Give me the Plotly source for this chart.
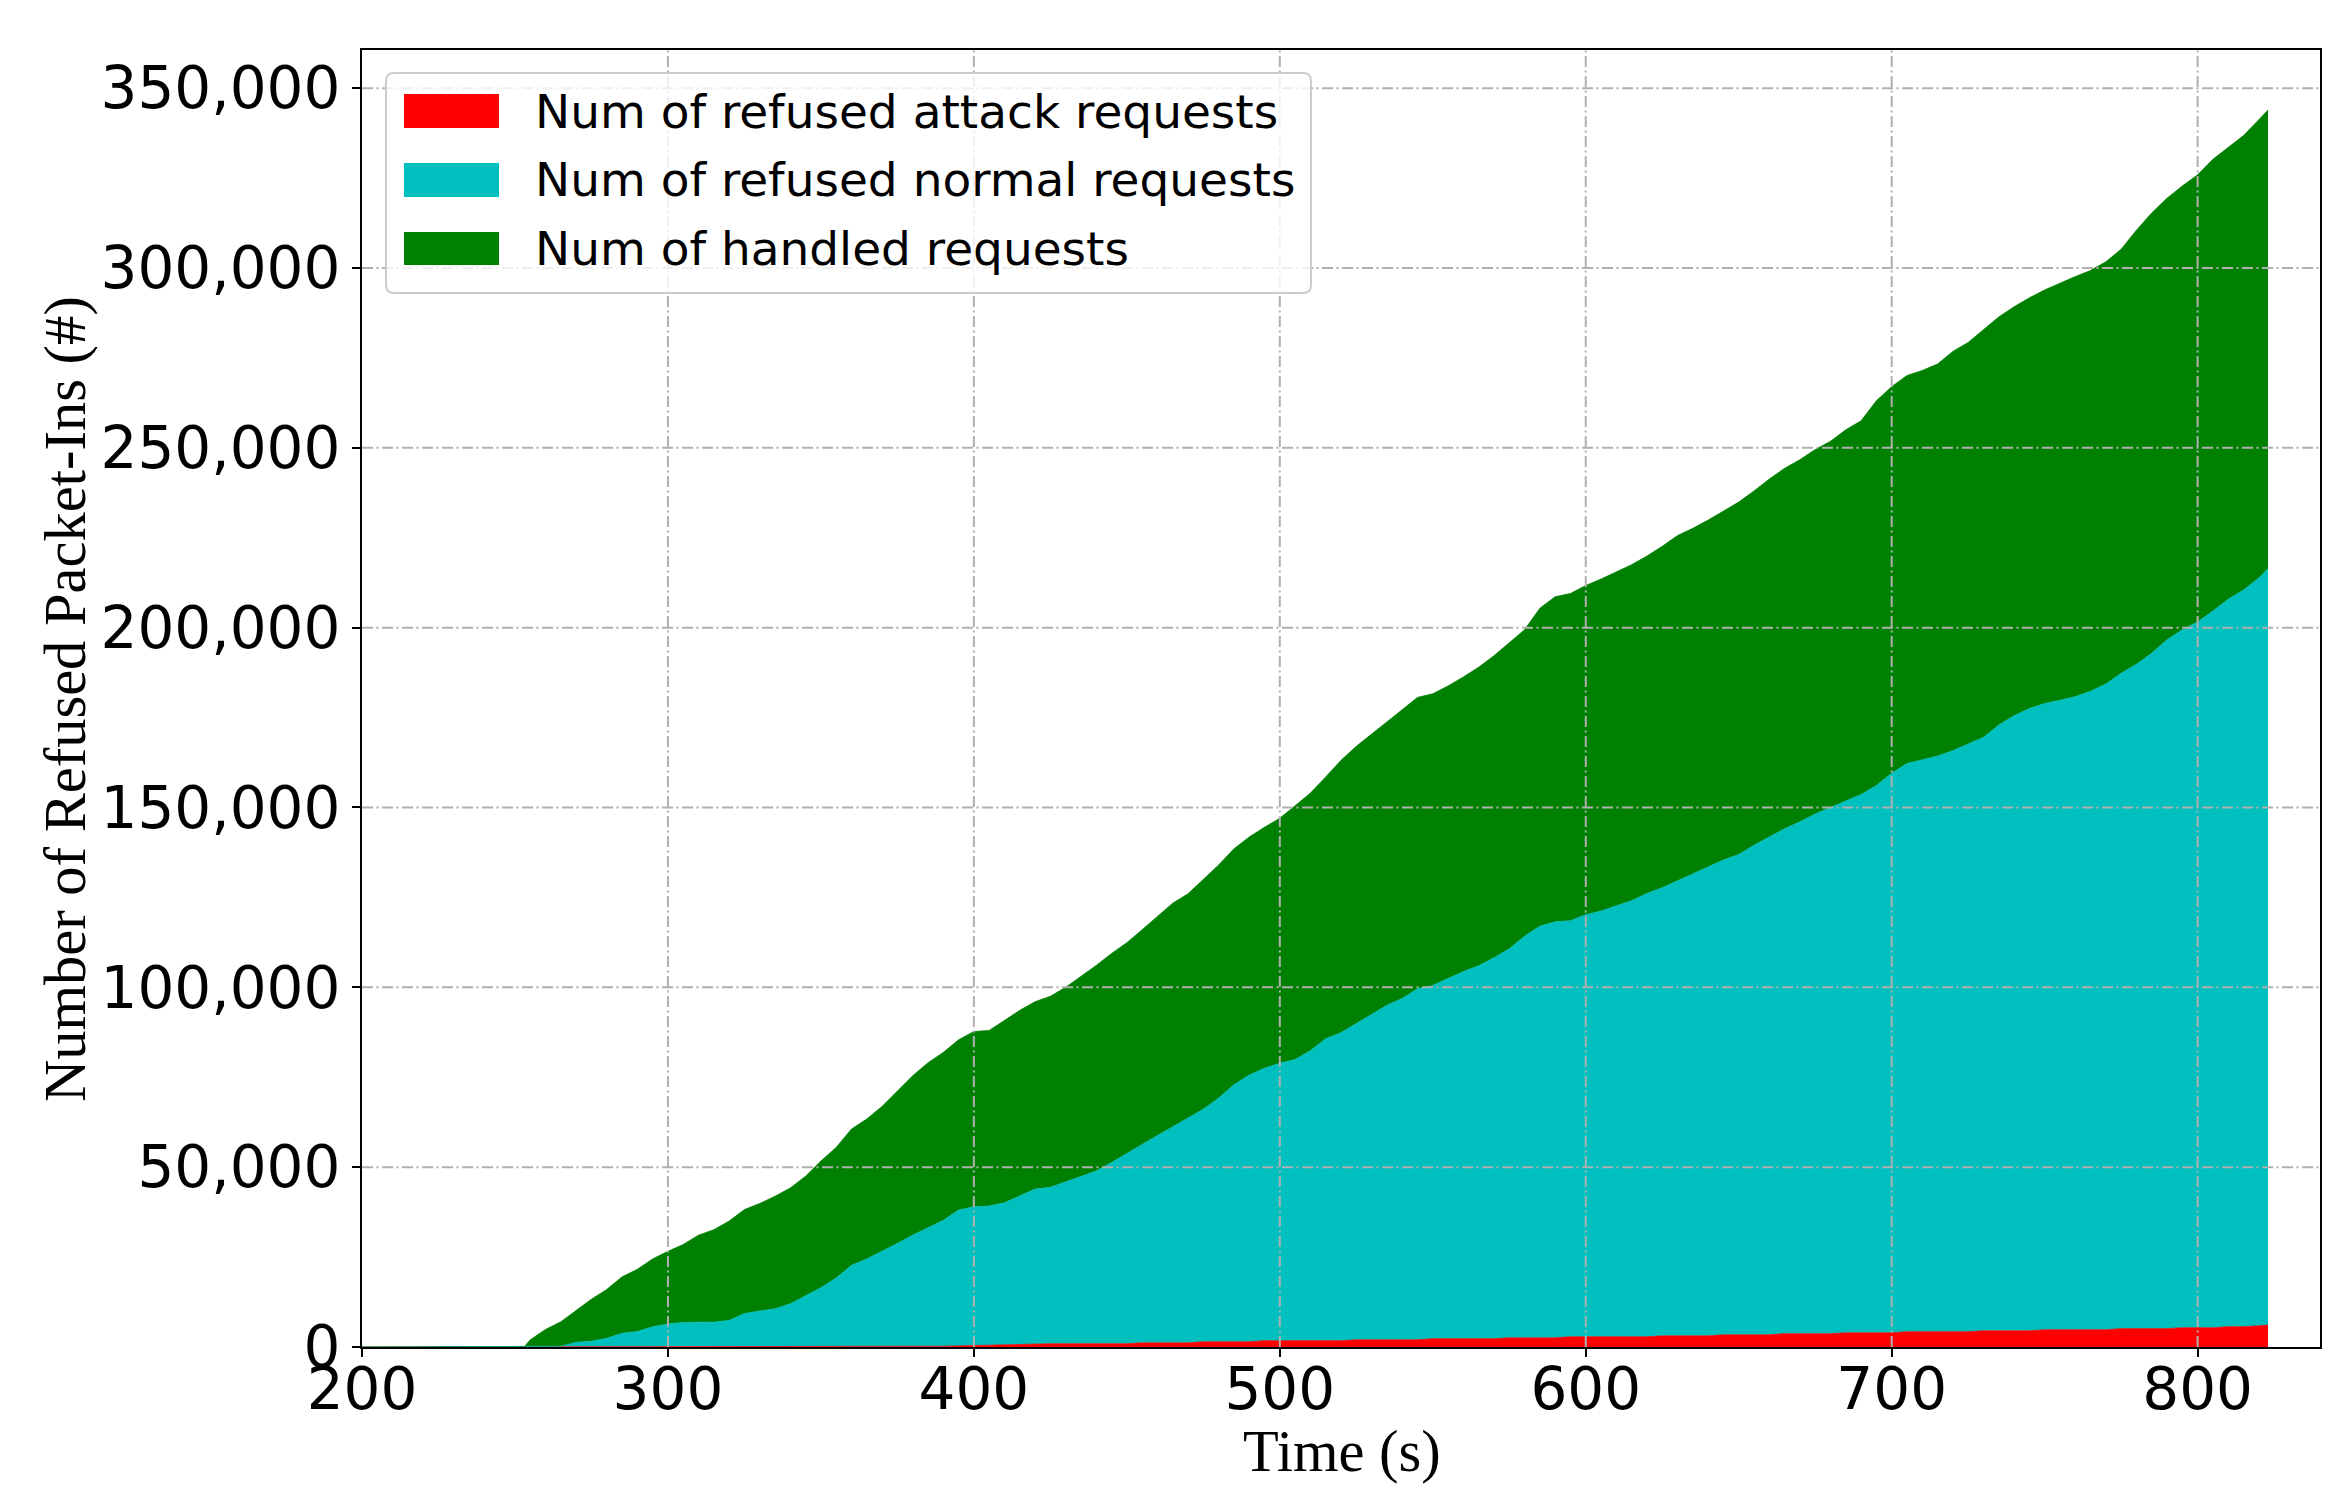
import plotly.graph_objects as go

# cumulative counts sampled from the curves (seconds)
time_s = [200, 253, 255, 260, 265, 270, 275, 280, 285, 290, 295, 300, 305, 310, 315, 320,
          325, 330, 335, 340, 345, 350, 355, 360, 365, 370, 375, 380, 385, 390, 395, 400,
          405, 410, 415, 420, 425, 430, 435, 440, 445, 450, 455, 460, 465, 470, 475, 480,
          485, 490, 495, 500, 505, 510, 515, 520, 525, 530, 535, 540, 545, 550, 555, 560,
          565, 570, 575, 580, 585, 590, 595, 600, 605, 610, 615, 620, 625, 630, 635, 640,
          645, 650, 655, 660, 665, 670, 675, 680, 685, 690, 695, 700, 705, 710, 715, 720,
          725, 730, 735, 740, 745, 750, 755, 760, 765, 770, 775, 780, 785, 790, 795, 800,
          805, 810, 815, 820, 823]

refused_attack = [0, 0, 0, 0, 0, 0, 0, 0, 0, 0, 0, 0, 0, 0, 0, 0,
                  0, 0, 0, 0, 0, 0, 0, 0, 0, 0, 50, 100, 150, 200, 300, 400,
                  500, 600, 900, 900, 900, 900, 900, 900, 900, 900, 1150, 1150, 1150, 1150, 1450, 1450,
                  1450, 1450, 1750, 1750, 1750, 1750, 1750, 1750, 2000, 2000, 2000, 2000, 2000, 2300, 2300, 2300,
                  2300, 2300, 2550, 2550, 2550, 2550, 2850, 2850, 2850, 2850, 2850, 2850, 3100, 3100, 3100, 3100,
                  3400, 3400, 3400, 3400, 3700, 3700, 3700, 3700, 3950, 3950, 3950, 3950, 4250, 4250, 4250, 4250,
                  4250, 4500, 4500, 4500, 4500, 4800, 4800, 4800, 4800, 4800, 5100, 5100, 5100, 5100, 5350, 5350,
                  5350, 5650, 5650, 5900, 6100]

refused_normal = [0, 0, 0, 0, 200, 1300, 1600, 2400, 3800, 4300, 5600, 6400, 6800, 6900, 6900, 7400,
                  9300, 10000, 10600, 12000, 14300, 16500, 19200, 22700, 24500, 26600, 28750, 31000, 33050, 35000, 37800, 38600,
                  38700, 39500, 41100, 43000, 43500, 45000, 46700, 48000, 50400, 52800, 55150, 57650, 60150, 62550, 64650, 67750,
                  71450, 74150, 75750, 77150, 78150, 80650, 83950, 85650, 88000, 90400, 93000, 94900, 97600, 98200, 100100, 102100,
                  103700, 105900, 108150, 111650, 114450, 115650, 115650, 117350, 118350, 119850, 121250, 123250, 124600, 126500, 128400, 130400,
                  132000, 133500, 136100, 138400, 140400, 142300, 144500, 146300, 147750, 149650, 152150, 155550, 157950, 158950, 160050, 161550,
                  163350, 165000, 168400, 171000, 173000, 174100, 175000, 176000, 177500, 179500, 182200, 184700, 187800, 191500, 194050, 196250,
                  199250, 202250, 204850, 207900, 210300]

handled = [0, 0, 2000, 4900, 6800, 8900, 11700, 13600, 15700, 17300, 18900, 20200, 21700, 24200, 25700, 27600,
           28900, 29900, 31300, 32200, 33200, 35200, 36300, 37900, 38900, 40300, 42300, 44300, 45800, 46700, 47300, 48700,
           48800, 50800, 51600, 52100, 53100, 54100, 55400, 57200, 58100, 58700, 59700, 60900, 62100, 62300, 63900, 64800,
           65600, 66200, 67000, 68100, 70600, 71600, 72800, 75700, 77000, 78100, 78800, 80300, 81000, 81100, 81400, 81900,
           83000, 84000, 85000, 85200, 88400, 90400, 91000, 91500, 92300, 92700, 93400, 93800, 94900, 96000, 96100, 96400,
           97000, 98000, 98500, 99500, 100200, 100700, 101300, 101800, 103300, 103900, 107000, 107500, 107900, 108300, 109000, 111000,
           111700, 113300, 113500, 113700, 114200, 115000, 116000, 116800, 117000, 117400, 117900, 120700, 122400, 122800, 123400, 124300,
           125600, 125700, 126300, 127400, 127500]

series_names = ["Num of refused attack requests",
                "Num of refused normal requests",
                "Num of handled requests"]
series_colors = ["#ff0000", "#00bfbf", "#008000"]

x_ticks = [200, 300, 400, 500, 600, 700, 800]
y_ticks = [0, 50000, 100000, 150000, 200000, 250000, 300000, 350000]

W, H = 2351, 1504
OFF = 8  # body margin of the html page
# plot rectangle in page pixels
PL, PT, PR, PB = 362, 50, 2320, 1347
PW, PH = PR - PL, PB - PT


def px(x):
    return (x - PL) / PW


def py(y):
    return (PB - y) / PH


def rounded_rect(x0, y0, x1, y1, r):
    return " ".join([
        f"M{px(x0 + r)},{py(y0)}", f"L{px(x1 - r)},{py(y0)}",
        f"Q{px(x1)},{py(y0)} {px(x1)},{py(y0 + r)}", f"L{px(x1)},{py(y1 - r)}",
        f"Q{px(x1)},{py(y1)} {px(x1 - r)},{py(y1)}", f"L{px(x0 + r)},{py(y1)}",
        f"Q{px(x0)},{py(y1)} {px(x0)},{py(y1 - r)}", f"L{px(x0)},{py(y0 + r)}",
        f"Q{px(x0)},{py(y0)} {px(x0 + r)},{py(y0)}", "Z"])


fig = go.Figure()
for name, vals, col in zip(series_names, [refused_attack, refused_normal, handled], series_colors):
    fig.add_trace(go.Scatter(x=time_s, y=vals, name=name, mode="lines", stackgroup="one",
                             line=dict(width=0.8, color=col), fillcolor=col, showlegend=False))

grid = dict(color="#b0b0b0", width=2, dash="11px,3.5px,2px,3.5px")
shapes = []
for xv in x_ticks[1:]:
    shapes.append(dict(type="line", xref="x", yref="paper", x0=xv, x1=xv, y0=0, y1=1,
                       line=grid, layer="above"))
for yv in y_ticks[1:]:
    shapes.append(dict(type="line", xref="paper", yref="y", x0=0, x1=1, y0=yv, y1=yv,
                       line=grid, layer="above"))

# legend drawn by hand to get matplotlib-sized patches
shapes.append(dict(type="path", xref="paper", yref="paper", path=rounded_rect(386, 73, 1311, 293, 8),
                   fillcolor="rgba(255,255,255,0.8)", line=dict(color="#cccccc", width=2), layer="above"))
annotations = []
rows = [(94, 128), (163, 197), (232, 265)]
for (y0, y1), name, col in zip(rows, series_names, series_colors):
    shapes.append(dict(type="rect", xref="paper", yref="paper", x0=px(404), x1=px(499),
                       y0=py(y1), y1=py(y0), fillcolor=col, line=dict(width=0), layer="above"))
    annotations.append(dict(text=name, xref="paper", yref="paper", x=px(533), y=py((y0 + y1) / 2),
                            xanchor="left", yanchor="middle", showarrow=False,
                            font=dict(family="DejaVu Sans", size=47, color="black")))

annotations.append(dict(text="Time (s)", xref="paper", yref="paper", x=px(1342), y=py(1451),
                        xanchor="center", yanchor="middle", showarrow=False,
                        font=dict(family="Liberation Serif", size=58.5, color="black")))
annotations.append(dict(text="Number of Refused Packet-Ins (#)", xref="paper", yref="paper",
                        x=px(66), y=py(699), textangle=-90, xanchor="center", yanchor="middle",
                        showarrow=False, font=dict(family="Liberation Serif", size=58.5, color="black")))

axis_style = dict(showline=True, linecolor="black", linewidth=2, mirror=True, ticks="outside",
                  ticklen=8, tickwidth=2, tickcolor="black", showgrid=False, zeroline=False,
                  automargin=False, tickfont=dict(family="DejaVu Sans", size=58, color="black"))

fig.update_xaxes(range=[200, 840], tickvals=x_ticks, ticklabelstandoff=-18, **axis_style)
fig.update_yaxes(range=[0, 360600], tickvals=y_ticks, tickformat=",", ticklabelstandoff=0, **axis_style)

fig.update_layout(width=W, height=H,
                  margin=dict(l=PL - OFF, t=PT - OFF, r=W - (PR - OFF), b=H - (PB - OFF)),
                  plot_bgcolor="white", paper_bgcolor="white",
                  font=dict(family="DejaVu Sans"), shapes=shapes, annotations=annotations,
                  showlegend=False)

fig.write_html("out.html")
